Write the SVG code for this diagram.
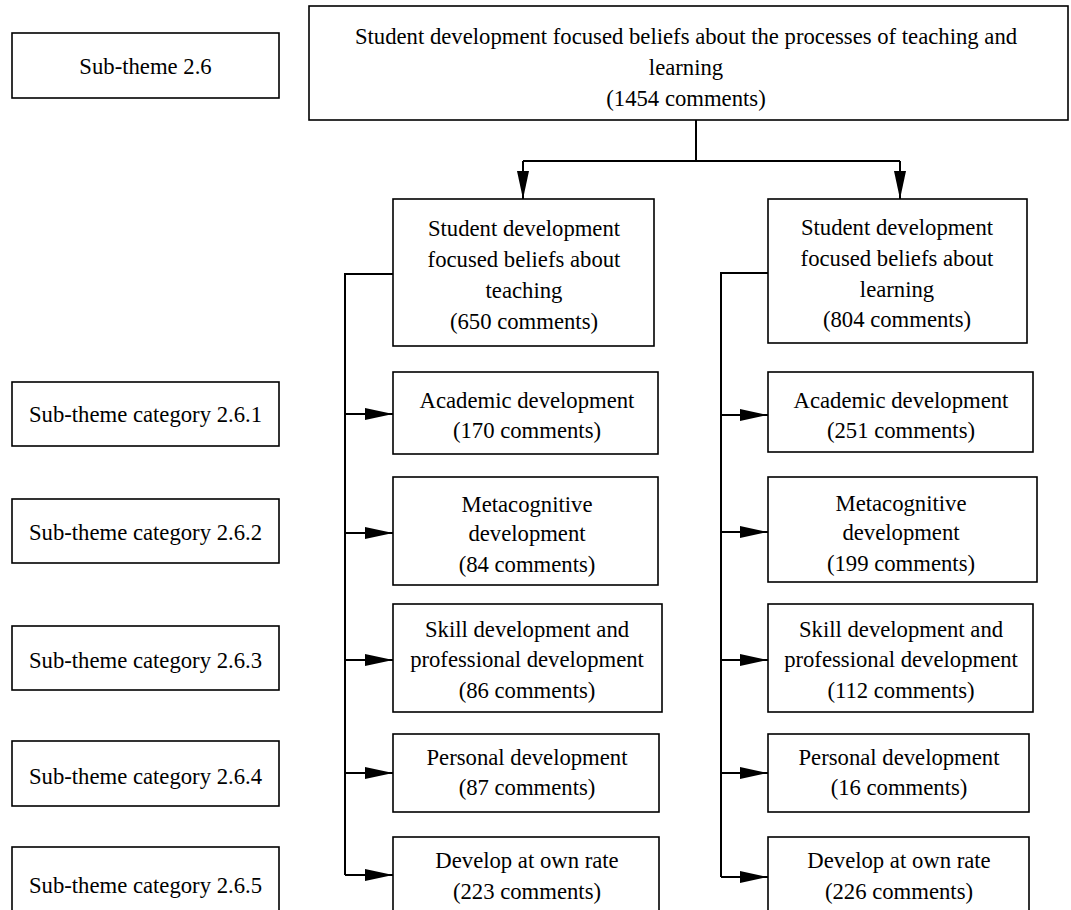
<svg xmlns="http://www.w3.org/2000/svg" width="1071" height="910" viewBox="0 0 1071 910">
<style>
.box{fill:#fff;stroke:#000;stroke-width:1.6}
.t{font-family:"Liberation Serif","Times New Roman",serif;font-size:22.7px;fill:#000;text-anchor:middle}
.c{fill:none;stroke:#000;stroke-width:2}
</style>
<defs>
<marker id="ah" markerUnits="userSpaceOnUse" markerWidth="28" markerHeight="12" refX="28" refY="6" orient="auto">
<path d="M0,0 L28,6 L0,12 z" fill="#000"/>
</marker>
</defs>
<rect width="1071" height="910" fill="#fff"/>
<g id="connectors">
<path class="c" d="M696,120 V161 M523,161 H900"/>
<path class="c" d="M523,161 V199" marker-end="url(#ah)"/>
<path class="c" d="M900,161 V199" marker-end="url(#ah)"/>
<path class="c" d="M393,274 H345 V875"/>
<path class="c" d="M345,414 H393" marker-end="url(#ah)"/>
<path class="c" d="M345,533 H393" marker-end="url(#ah)"/>
<path class="c" d="M345,660 H393" marker-end="url(#ah)"/>
<path class="c" d="M345,773 H393" marker-end="url(#ah)"/>
<path class="c" d="M345,875 H393" marker-end="url(#ah)"/>
<path class="c" d="M768,273 H721 V877"/>
<path class="c" d="M721,415 H768" marker-end="url(#ah)"/>
<path class="c" d="M721,532 H768" marker-end="url(#ah)"/>
<path class="c" d="M721,660 H768" marker-end="url(#ah)"/>
<path class="c" d="M721,773 H768" marker-end="url(#ah)"/>
<path class="c" d="M721,877 H768" marker-end="url(#ah)"/>
</g>
<g id="label-2-6"><rect class="box" x="12" y="33" width="267" height="65"/><text class="t" x="145.5" y="74">Sub-theme 2.6</text></g>
<g id="label-2-6-1"><rect class="box" x="12" y="382" width="267" height="64"/><text class="t" x="145.5" y="422">Sub-theme category 2.6.1</text></g>
<g id="label-2-6-2"><rect class="box" x="12" y="499" width="267" height="64"/><text class="t" x="145.5" y="540">Sub-theme category 2.6.2</text></g>
<g id="label-2-6-3"><rect class="box" x="12" y="626" width="267" height="64"/><text class="t" x="145.5" y="668">Sub-theme category 2.6.3</text></g>
<g id="label-2-6-4"><rect class="box" x="12" y="741" width="267" height="65"/><text class="t" x="145.5" y="784">Sub-theme category 2.6.4</text></g>
<g id="label-2-6-5"><rect class="box" x="12" y="847" width="267" height="70"/><text class="t" x="145.5" y="893">Sub-theme category 2.6.5</text></g>
<g id="root"><rect class="box" x="309" y="6" width="759" height="114"/>
<text class="t" x="686" y="44">Student development focused beliefs about the processes of teaching and</text>
<text class="t" x="686" y="75">learning</text>
<text class="t" x="686" y="106">(1454 comments)</text></g>
<g id="teaching"><rect class="box" x="393" y="199" width="261" height="147"/>
<text class="t" x="524" y="236">Student development</text>
<text class="t" x="524" y="267">focused beliefs about</text>
<text class="t" x="524" y="298">teaching</text>
<text class="t" x="524" y="329">(650 comments)</text></g>
<g id="learning"><rect class="box" x="768" y="199" width="259" height="144"/>
<text class="t" x="897" y="235">Student development</text>
<text class="t" x="897" y="266">focused beliefs about</text>
<text class="t" x="897" y="297">learning</text>
<text class="t" x="897" y="327">(804 comments)</text></g>
<g id="t-academic"><rect class="box" x="393" y="372" width="265" height="82"/>
<text class="t" x="527" y="408">Academic development</text><text class="t" x="527" y="438">(170 comments)</text></g>
<g id="t-meta"><rect class="box" x="393" y="477" width="265" height="108"/>
<text class="t" x="527" y="512">Metacognitive</text><text class="t" x="527" y="541">development</text><text class="t" x="527" y="572">(84 comments)</text></g>
<g id="t-skill"><rect class="box" x="393" y="604" width="269" height="108"/>
<text class="t" x="527" y="637">Skill development and</text><text class="t" x="527" y="667">professional development</text><text class="t" x="527" y="698">(86 comments)</text></g>
<g id="t-personal"><rect class="box" x="393" y="734" width="266" height="78"/>
<text class="t" x="527" y="765">Personal development</text><text class="t" x="527" y="795">(87 comments)</text></g>
<g id="t-rate"><rect class="box" x="393" y="837" width="266" height="80"/>
<text class="t" x="527" y="868">Develop at own rate</text><text class="t" x="527" y="899">(223 comments)</text></g>
<g id="l-academic"><rect class="box" x="768" y="372" width="265" height="80"/>
<text class="t" x="901" y="408">Academic development</text><text class="t" x="901" y="438">(251 comments)</text></g>
<g id="l-meta"><rect class="box" x="768" y="477" width="269" height="105"/>
<text class="t" x="901" y="511">Metacognitive</text><text class="t" x="901" y="540">development</text><text class="t" x="901" y="571">(199 comments)</text></g>
<g id="l-skill"><rect class="box" x="768" y="604" width="265" height="108"/>
<text class="t" x="901" y="637">Skill development and</text><text class="t" x="901" y="667">professional development</text><text class="t" x="901" y="698">(112 comments)</text></g>
<g id="l-personal"><rect class="box" x="768" y="734" width="261" height="78"/>
<text class="t" x="899" y="765">Personal development</text><text class="t" x="899" y="795">(16 comments)</text></g>
<g id="l-rate"><rect class="box" x="768" y="837" width="261" height="80"/>
<text class="t" x="899" y="868">Develop at own rate</text><text class="t" x="899" y="899">(226 comments)</text></g>
</svg>
